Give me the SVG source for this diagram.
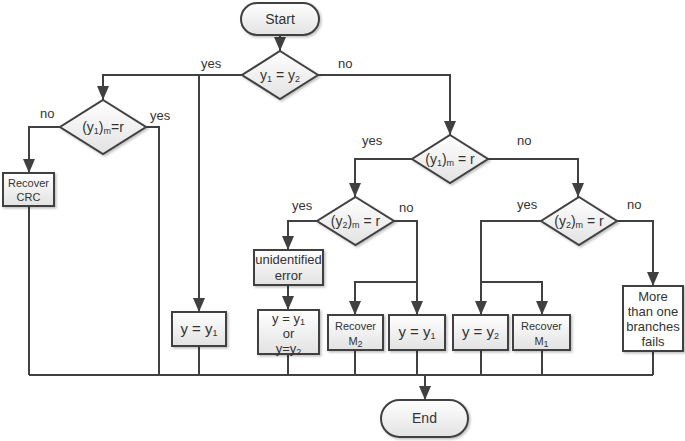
<svg xmlns="http://www.w3.org/2000/svg" width="685" height="441" viewBox="0 0 685 441">
<defs>
<linearGradient id="g" x1="0" y1="0" x2="0" y2="1">
<stop offset="0" stop-color="#ffffff"/>
<stop offset="1" stop-color="#e2e2e2"/>
</linearGradient>
<filter id="sh" x="-20%" y="-20%" width="140%" height="140%">
<feDropShadow dx="1.5" dy="1.5" stdDeviation="1" flood-color="#000" flood-opacity="0.25"/>
</filter>
<marker id="ah" markerUnits="userSpaceOnUse" markerWidth="14" markerHeight="12" refX="14" refY="6" orient="auto">
<path d="M0,0 L14,6 L0,12 z" fill="#404040"/>
</marker>
</defs>
<style>
.n{fill:url(#g);stroke:#404040;stroke-width:2;filter:url(#sh)}
.w{fill:#fff;stroke:#404040;stroke-width:2;filter:url(#sh)}
.c{fill:none;stroke:#404040;stroke-width:2}
.a{marker-end:url(#ah)}
text{font-family:"Liberation Sans",Arial,sans-serif;fill:#333;text-anchor:middle}
.t{font-size:13px}
.d{font-size:14px}
.s{font-size:11px}
.l{font-size:13px;text-anchor:start}
.b{font-size:15px}
.sub{font-size:9px}
</style>
<g id="connectors">
<path class="c a" d="M280,35 V51"/>
<path class="c a" d="M242,75 H103 V100"/>
<path class="c a" d="M199,75 V312"/>
<path class="c a" d="M318,75 H450 V135"/>
<path class="c a" d="M60,127 H29 V173"/>
<path class="c" d="M146,127 H159 V375"/>
<path class="c" d="M29,206 V375"/>
<path class="c" d="M199,346 V375"/>
<path class="c a" d="M412,159 H355 V197"/>
<path class="c a" d="M488,159 H578 V197"/>
<path class="c a" d="M317,221 H288 V250"/>
<path class="c a" d="M288,285 V310"/>
<path class="c" d="M288,354 V375"/>
<path class="c a" d="M394,221 H417 V315"/>
<path class="c a" d="M417,282 H355 V315"/>
<path class="c" d="M355,350 V375"/>
<path class="c" d="M417,350 V375"/>
<path class="c a" d="M541,221 H481 V315"/>
<path class="c a" d="M481,282 H542 V315"/>
<path class="c" d="M481,350 V375"/>
<path class="c" d="M542,350 V375"/>
<path class="c a" d="M617,221 H653 V286"/>
<path class="c" d="M653,351 V375"/>
<path class="c" d="M29,375 H653"/>
<path class="c a" d="M425,375 V400"/>
<text class="l" x="201" y="68">yes</text>
<text class="l" x="338" y="68">no</text>
<text class="l" x="40" y="118">no</text>
<text class="l" x="150" y="120">yes</text>
<text class="l" x="362" y="145">yes</text>
<text class="l" x="517" y="145">no</text>
<text class="l" x="292" y="210">yes</text>
<text class="l" x="399" y="212">no</text>
<text class="l" x="517" y="209">yes</text>
<text class="l" x="627" y="209">no</text>
</g>
<g id="start">
<rect class="n" x="241" y="3" width="78" height="32" rx="16"/>
<text class="d" x="280" y="24">Start</text>
</g>
<g id="d1">
<polygon class="n" points="280,51 318,75 280,99 242,75"/>
<text class="d" x="280" y="80">y<tspan class="sub" dy="2">1</tspan><tspan dy="-2"> = y</tspan><tspan class="sub" dy="2">2</tspan></text>
</g>
<g id="d2">
<polygon class="n" points="103,100 146,127 103,154 60,127"/>
<text class="d" x="103" y="132">(y<tspan class="sub" dy="2">1</tspan><tspan dy="-2">)</tspan><tspan class="sub" dy="2">m</tspan><tspan dy="-2">=r</tspan></text>
</g>
<g id="crc">
<rect class="n" x="3" y="173" width="51" height="33"/>
<text class="s" x="28.5" y="187">Recover</text>
<text class="s" x="28.5" y="201">CRC</text>
</g>
<g id="yy1a">
<rect class="n" x="172" y="312" width="54" height="34"/>
<text class="b" x="199" y="334">y = y<tspan class="sub" dy="2">1</tspan></text>
</g>
<g id="d3">
<polygon class="n" points="450,135 488,159 450,183 412,159"/>
<text class="d" x="450" y="164">(y<tspan class="sub" dy="2">1</tspan><tspan dy="-2">)</tspan><tspan class="sub" dy="2">m</tspan><tspan dy="-2"> = r</tspan></text>
</g>
<g id="d4">
<polygon class="n" points="355.5,197 394,221 355.5,245 317,221"/>
<text class="d" x="355.5" y="226">(y<tspan class="sub" dy="2">2</tspan><tspan dy="-2">)</tspan><tspan class="sub" dy="2">m</tspan><tspan dy="-2"> = r</tspan></text>
</g>
<g id="d5">
<polygon class="n" points="579,197 617,221 579,245 541,221"/>
<text class="d" x="579" y="226">(y<tspan class="sub" dy="2">2</tspan><tspan dy="-2">)</tspan><tspan class="sub" dy="2">m</tspan><tspan dy="-2"> = r</tspan></text>
</g>
<g id="unid">
<rect class="n" x="254" y="250" width="69" height="35"/>
<text class="t" x="288.5" y="264">unidentified</text>
<text class="t" x="288.5" y="280">error</text>
</g>
<g id="yor">
<rect class="n" x="258" y="310" width="61" height="44"/>
<text class="t" x="288.5" y="323">y = y<tspan class="sub" dy="2">1</tspan></text>
<text class="t" x="288.5" y="338">or</text>
<text class="t" x="288.5" y="353">y=y<tspan class="sub" dy="2">2</tspan></text>
</g>
<g id="m2">
<rect class="n" x="328" y="315" width="55" height="35"/>
<text class="s" x="355.5" y="330">Recover</text>
<text class="s" x="355.5" y="345">M<tspan class="sub" dy="2">2</tspan></text>
</g>
<g id="yy1b">
<rect class="n" x="389" y="315" width="56" height="35"/>
<text class="b" x="417" y="337">y = y<tspan class="sub" dy="2">1</tspan></text>
</g>
<g id="yy2">
<rect class="n" x="453" y="315" width="55" height="35"/>
<text class="b" x="480.5" y="337">y = y<tspan class="sub" dy="2">2</tspan></text>
</g>
<g id="m1">
<rect class="n" x="513" y="315" width="57" height="35"/>
<text class="s" x="541.5" y="330">Recover</text>
<text class="s" x="541.5" y="345">M<tspan class="sub" dy="2">1</tspan></text>
</g>
<g id="more">
<rect class="w" x="623" y="286" width="60" height="65"/>
<text class="t" x="653" y="301">More</text>
<text class="t" x="653" y="316">than one</text>
<text class="t" x="653" y="331">branches</text>
<text class="t" x="653" y="346">fails</text>
</g>
<g id="end">
<rect class="n" x="381" y="400" width="87" height="37" rx="18.5"/>
<text class="d" x="424.5" y="423">End</text>
</g>
</svg>
